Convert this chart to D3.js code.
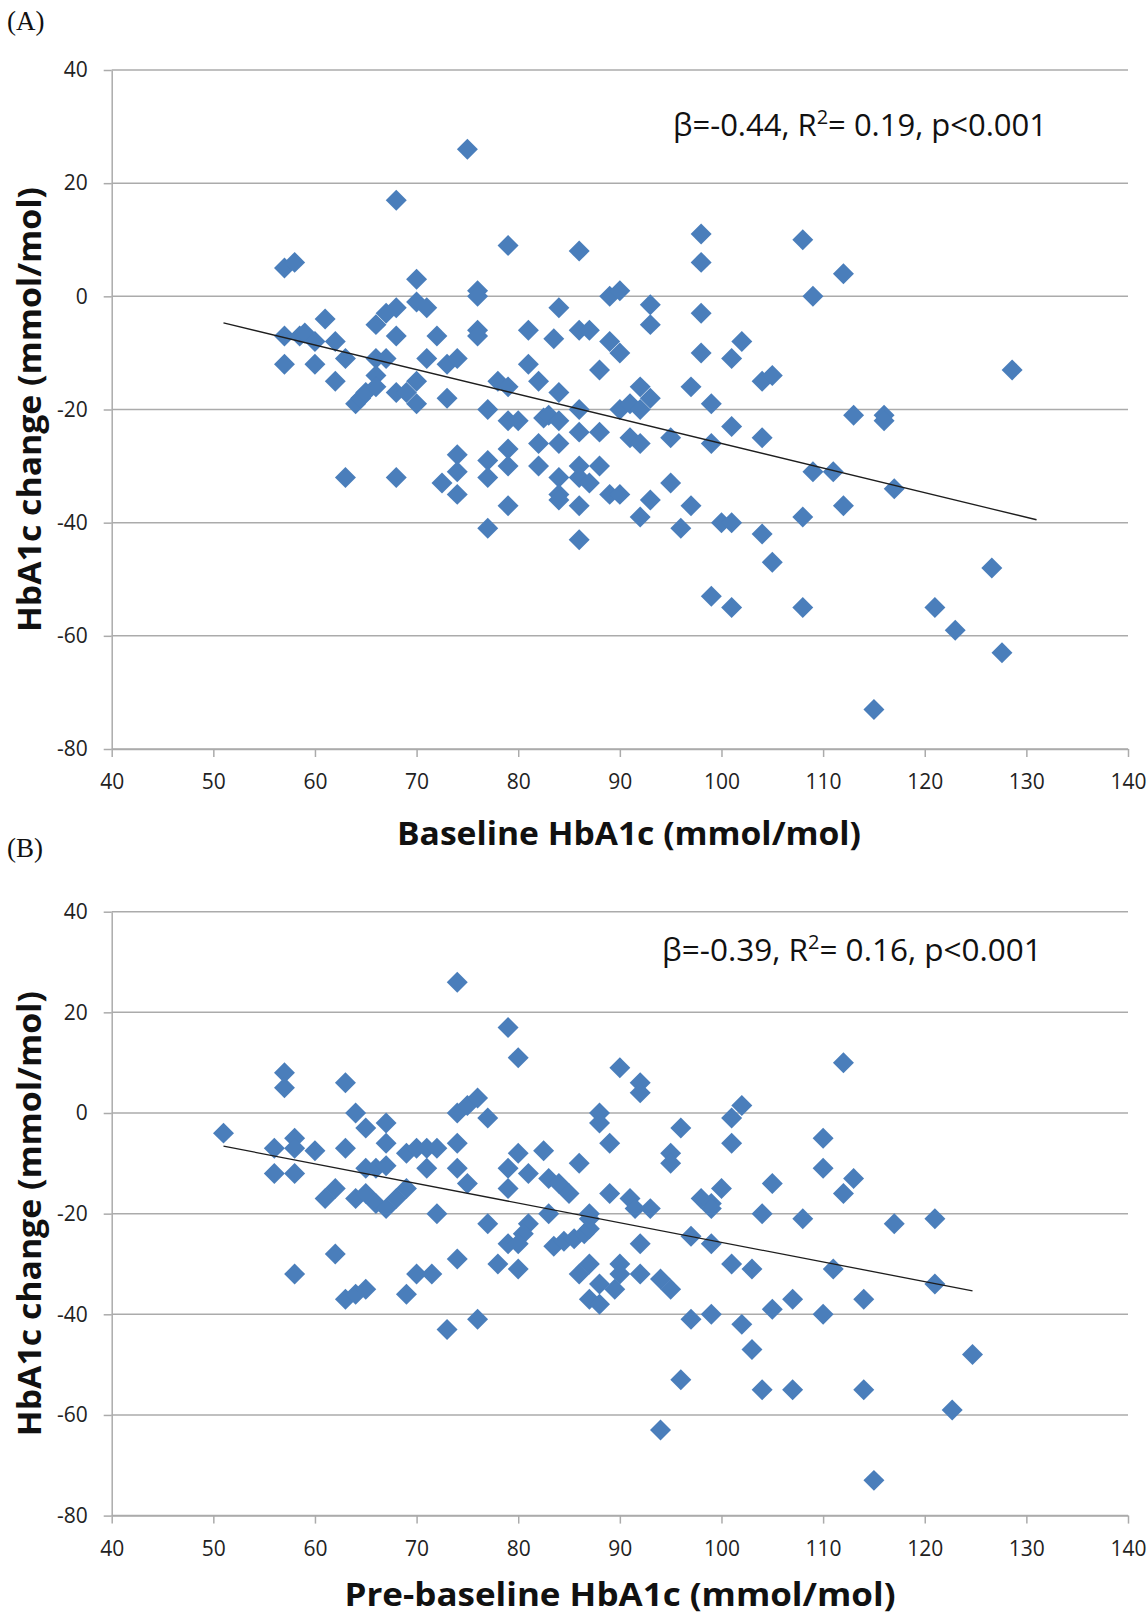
<!DOCTYPE html>
<html>
<head>
<meta charset="utf-8">
<script src="https://cdn.jsdelivr.net/npm/d3@7"></script>
<style>
  body { margin: 0; background: #fff; }
  text { font-family: "Open Sans", "Noto Sans", sans-serif; }
</style>
</head>
<body>
<svg id="chart" width="1148" height="1621"></svg>
<script>
// Axis ticks (same for both panels)
const xTicks = [40, 50, 60, 70, 80, 90, 100, 110, 120, 130, 140];
const yTicks = [40, 20, 0, -20, -40, -60, -80];

// Panel A: baseline HbA1c vs change
const baselineA = [57, 58, 68, 75, 79, 70, 76, 76, 61, 57, 58.5, 59, 60, 62, 66, 67, 68, 70, 71, 68,
  72, 76, 76, 57, 60, 63, 62, 66, 67, 66, 71, 73, 74, 70, 78, 64, 64.5, 65, 66, 68,
  69, 70, 73, 77, 74, 77, 77, 74, 72.5, 74, 63, 68, 77, 79, 79, 79, 79, 86, 98, 98,
  89, 90, 84, 93, 93, 98, 81, 83.5, 86, 87, 89, 90, 98, 102, 101, 81, 88, 82, 79, 92,
  97, 104, 105, 80, 84, 82.5, 83, 84, 86, 93, 90, 91, 92, 99, 82, 84, 86, 88, 82, 84,
  84, 84, 86, 86, 87, 88, 86, 86, 91, 92, 95, 99, 101, 104, 89, 90, 95, 93, 92, 97,
  96, 100, 101, 104, 105, 99, 101, 108, 112, 109, 128.6, 109, 111, 113, 116, 116, 117, 112, 108, 108,
  121, 123, 126.6, 127.6, 115];
const changeA = [5, 6, 17, 26, 9, 3, 1, 0, -4, -7, -7, -6.5, -8, -8, -5, -3, -2, -1, -2, -7,
  -7, -6, -7, -12, -12, -11, -15, -11, -11, -14, -11, -12, -11, -15, -15, -19, -18, -17, -16, -17,
  -17, -19, -18, -20, -28, -29, -32, -31, -33, -35, -32, -32, -41, -22, -27, -30, -37, 8, 11, 6,
  0, 1, -2, -1.5, -5, -3, -6, -7.5, -6, -6, -8, -10, -10, -8, -11, -12, -13, -15, -16, -16,
  -16, -15, -14, -22, -17, -21.5, -21, -22, -20, -18, -20, -19, -20, -19, -26, -26, -24, -24, -30, -32,
  -35, -36, -30, -32, -33, -30, -37, -43, -25, -26, -25, -26, -23, -25, -35, -35, -33, -36, -39, -37,
  -41, -40, -40, -42, -47, -53, -55, 10, 4, 0, -13, -31, -31, -21, -21, -22, -34, -37, -39, -55,
  -55, -59, -48, -63, -73];

// Panel B: pre-baseline HbA1c vs change
const preBaselineB = [74, 57, 57, 63, 51, 64, 65, 67, 67, 56, 58, 58, 60, 63, 56, 58, 62, 61, 64, 65,
  66, 67, 68, 69, 65, 66, 67, 69, 70, 71, 72, 71, 74, 74, 75, 76, 77, 74, 75, 72,
  77, 62, 74, 58, 70, 71.5, 69, 63, 64, 65, 76, 73,
  79, 80, 90, 92, 92, 88, 88, 89, 96, 102, 101, 101, 95, 95, 80, 79, 81, 82.5,
  86, 83, 84, 85, 79, 89, 91, 91.5, 93, 98, 99, 99, 100, 104, 105, 81, 80.5, 79, 80, 83,
  83.5, 84.5, 85.5, 86.5, 87, 87, 87, 92, 97, 99, 78, 80, 87, 86, 87, 88, 88, 89.5, 90, 90,
  92, 94, 95, 101, 103, 97, 99, 102,
  112, 110, 110, 113, 112, 108, 117, 121, 111, 121, 105, 107, 114, 110, 103, 124.7, 104, 107, 114, 122.7,
  115, 94, 96];
const changeB = [26, 8, 5, 6, -4, 0, -3, -2, -6, -7, -5, -7, -7.5, -7, -12, -12, -15, -17, -17, -16,
  -18, -19, -17, -15, -11, -11, -10.5, -8, -7, -7, -7, -11, -6, 0, 1.5, 3, -1, -11, -14, -20,
  -22, -28, -29, -32, -32, -32, -36, -37, -36, -35, -41, -43,
  17, 11, 9, 6, 4, 0, -2, -6, -3, 1.5, -1, -6, -8, -10, -8, -11, -12, -7.5,
  -10, -13, -14, -16, -15, -16, -17, -19, -19, -17, -18, -19, -15, -20, -14, -22, -24, -26, -26, -20,
  -26.5, -25.5, -25, -24, -23, -21, -20, -26, -24.5, -26, -30, -31, -30, -32, -37, -38, -34, -35, -30, -32,
  -32, -33, -35, -30, -31, -41, -40, -42,
  10, -5, -11, -13, -16, -21, -22, -21, -31, -34, -39, -37, -37, -40, -47, -48, -55, -55, -55, -59,
  -73, -63, -53];

// Regression lines: [slope, intercept], drawn over [from, to]
const trendA = [-0.435, 17.5];
const trendRangeA = [51, 131];
const trendB = [-0.39, 13.3];
const trendRangeB = [51, 124.7];

const svg = d3.select("#chart");
const left = 111.7, right = 1128;
const gridColor = "#ababab";
const dotColor = "#4a7ebb";

function drawPanel(p) {
  let x = d3.scaleLinear().domain([40, 140]).range([left, right]),
      y = d3.scaleLinear().domain([-80, 40]).range([p.bottom, p.top]),
      g = svg.append("g");

  // Horizontal gridlines
  g.selectAll("line.grid").data(yTicks).join("line")
      .attr("class", "grid")
      .attr("x1", left).attr("x2", right)
      .attr("y1", d => y(d)).attr("y2", d => y(d))
      .attr("stroke", gridColor).attr("stroke-width", 1.5);

  // Y axis (plain hyphen for negatives, as in the original)
  let yAxis = g.append("g")
      .attr("transform", `translate(${left},0)`)
      .call(d3.axisLeft(y).tickValues(yTicks).tickFormat(d => String(d))
        .tickSize(8).tickPadding(16).tickSizeOuter(0));
  // X axis
  let xAxis = g.append("g")
      .attr("transform", `translate(0,${p.bottom})`)
      .call(d3.axisBottom(x).tickValues(xTicks).tickFormat(d => String(d))
        .tickSize(8).tickPadding(17).tickSizeOuter(0));

  [yAxis, xAxis].forEach(a => {
    a.select(".domain").attr("stroke", gridColor).attr("stroke-width", 1.5);
    a.selectAll(".tick line").attr("stroke", gridColor).attr("stroke-width", 1.5);
    a.selectAll(".tick text")
        .attr("fill", "#222")
        .style("font-size", "21px")
        .style("font-family", "'Open Sans', sans-serif");
  });

  // Points
  let pts = p.xs.map((v, i) => [v, p.ys[i]]);
  g.selectAll("path.pt").data(pts).join("path")
      .attr("class", "pt")
      .attr("d", d3.symbol().type(d3.symbolSquare).size(220))
      .attr("transform", d => `translate(${x(d[0])},${y(d[1])}) rotate(45)`)
      .attr("fill", dotColor);

  // Trend line
  let line = d3.line().x(d => x(d)).y(d => y(p.trend[0] * d + p.trend[1]));
  g.append("path")
      .attr("d", line(p.trendRange))
      .attr("fill", "none")
      .attr("stroke", "#1e1e1e")
      .attr("stroke-width", 1.3);

  // Annotation
  let ann = g.append("text")
      .attr("x", p.annX).attr("y", p.annY)
      .attr("fill", "#111")
      .style("font-size", p.annSize + "px");
  ann.append("tspan").text(p.ann[0]);
  ann.append("tspan").attr("dy", -12).style("font-size", "20px").text("2");
  ann.append("tspan").attr("dy", 12).text(p.ann[1]);

  // Axis titles
  g.append("text")
      .attr("transform", `translate(41,${(p.top + p.bottom) / 2}) rotate(-90)`)
      .attr("text-anchor", "middle")
      .attr("textLength", 445).attr("lengthAdjust", "spacingAndGlyphs")
      .style("font-size", "32px").style("font-weight", "bold")
      .attr("fill", "#111")
      .text("HbA1c change (mmol/mol)");

  g.append("text")
      .attr("x", p.xTitleX).attr("y", p.xTitleY)
      .attr("text-anchor", "middle")
      .attr("textLength", p.xTitleLen).attr("lengthAdjust", "spacingAndGlyphs")
      .style("font-size", "32px").style("font-weight", "bold")
      .attr("fill", "#111")
      .text(p.xTitle);

  // Panel letter
  g.append("text")
      .attr("x", 7).attr("y", p.letterY)
      .style("font-family", "'Liberation Serif', 'DejaVu Serif', serif")
      .style("font-size", "27px")
      .attr("fill", "#111")
      .text(p.letter);
}

drawPanel({
  top: 70, bottom: 749, xs: baselineA, ys: changeA,
  trend: trendA, trendRange: trendRangeA,
  ann: ["\u03b2=-0.44, R", "= 0.19, p<0.001"], annX: 673, annY: 136, annSize: 31,
  xTitle: "Baseline HbA1c (mmol/mol)", xTitleX: 629, xTitleY: 845, xTitleLen: 464,
  letter: "(A)", letterY: 30
});

drawPanel({
  top: 911.7, bottom: 1515.6, xs: preBaselineB, ys: changeB,
  trend: trendB, trendRange: trendRangeB,
  ann: ["\u03b2=-0.39, R", "= 0.16, p<0.001"], annX: 662, annY: 961, annSize: 31.5,
  xTitle: "Pre-baseline HbA1c (mmol/mol)", xTitleX: 620, xTitleY: 1606, xTitleLen: 551,
  letter: "(B)", letterY: 857
});
</script>
</body>
</html>
